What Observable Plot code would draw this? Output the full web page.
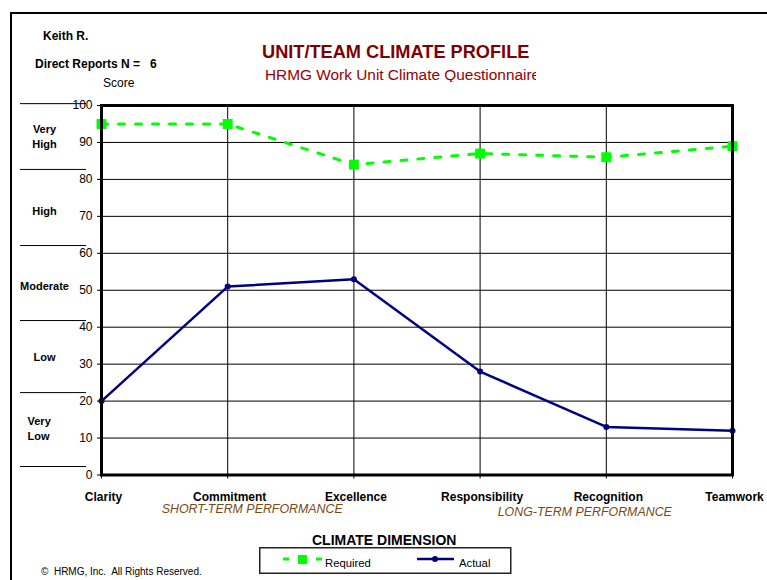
<!DOCTYPE html>
<html><head><meta charset="utf-8">
<script src="https://cdn.jsdelivr.net/npm/d3@7"></script>
<script src="https://cdn.jsdelivr.net/npm/@observablehq/plot@0.6"></script>
<style>
body{margin:0;background:#fff;font-family:"Liberation Sans",Arial,sans-serif;}
#page{position:relative;width:767px;height:580px;overflow:hidden;background:#fff;}
.t{position:absolute;white-space:pre;line-height:1;color:#000;}
#chart svg{overflow:visible;}
</style></head><body>
<div id="page">
  <div style="position:absolute;left:10px;top:12px;width:800px;height:600px;border-left:2px solid #000;border-top:2px solid #000;"></div>
  <div id="chart" style="position:absolute;left:0;top:0;"></div>
  <div class="t" style="left:43px;top:30px;font-size:12px;font-weight:bold;">Keith R.</div>
  <div class="t" style="left:35px;top:58.4px;font-size:12px;font-weight:bold;">Direct Reports N =   6</div>
  <div class="t" style="left:103px;top:77.4px;font-size:12px;">Score</div>
  <div class="t" style="left:262px;top:42.5px;font-size:18.2px;font-weight:bold;color:#800000;">UNIT/TEAM CLIMATE PROFILE</div>
  <div class="t" style="left:265px;top:67px;width:271px;overflow:hidden;font-size:15.4px;color:#990000;">HRMG Work Unit Climate Questionnaire</div>
  <div class="t" style="left:161.7px;top:503.2px;font-size:12.4px;font-style:italic;color:#7b4a12;">SHORT-TERM PERFORMANCE</div>
  <div class="t" style="left:497.7px;top:506.2px;font-size:12.4px;font-style:italic;color:#7b4a12;">LONG-TERM PERFORMANCE</div>
  <div class="t" style="left:312px;top:533px;font-size:14px;font-weight:bold;">CLIMATE DIMENSION</div>
  <div class="t" style="left:41px;top:566.8px;font-size:10px;">©  HRMG, Inc.  All Rights Reserved.</div>
  <svg id="legend" style="position:absolute;left:259px;top:547px;" width="253" height="27"></svg>
</div>
<script>
const categories = ["Clarity","Commitment","Excellence","Responsibility","Recognition","Teamwork"];
const required = [95, 95, 84, 87, 86, 89];
const actual = [20, 51, 53, 28, 13, 12];
const seriesNames = ["Required", "Actual"];
const yTicks = [0,10,20,30,40,50,60,70,80,90,100];
const bandLines = [100.5, 82.7, 62.1, 41.8, 22.3, 2.3];
const bandLabels = ["Very\nHigh", "High", "Moderate", "Low", "Very\nLow"];
const bandLabelY = [91.9, 71.6, 51.3, 32.1, 12.7];

const rows = categories.map((c, i) => ({i, c, required: required[i], actual: actual[i]}));
const bands = bandLabels.map((label, i) => ({label, y: bandLabelY[i], last: i === bandLabels.length - 1}));

const W = 767, H = 580, ML = 101, MR = 35, MT = 105, MB = 105.5;

const chart = Plot.plot({
  width: W, height: H,
  marginLeft: ML, marginRight: MR, marginTop: MT, marginBottom: MB,
  style: {fontFamily: "'Liberation Sans', Arial, sans-serif", fontSize: "12px", background: "transparent", color: "black", overflow: "visible"},
  x: {type: "linear", domain: [0, categories.length - 1], label: null},
  y: {domain: [0, 100], label: null},
  marks: [
    Plot.gridY(yTicks, {stroke: "black", strokeOpacity: 1, strokeWidth: 1}),
    Plot.gridX(d3.range(categories.length), {stroke: "black", strokeOpacity: 1, strokeWidth: 1}),
    Plot.ruleY(bandLines, {stroke: "black", strokeWidth: 1, insetLeft: 20 - ML, insetRight: (W - MR) - 86}),
    Plot.text(bands.filter(d => !d.last), {y: "y", text: "label", frameAnchor: "left", dx: -57, textAnchor: "middle", fontWeight: "bold", fontSize: 11, lineHeight: 1.36}),
    Plot.text(bands.filter(d => d.last), {y: "y", text: "label", frameAnchor: "left", dx: -74, textAnchor: "start", fontWeight: "bold", fontSize: 11, lineHeight: 1.36}),
    Plot.axisY({ticks: yTicks, tickSize: 4, tickPadding: 5, fontSize: 12, label: null}),
    Plot.axisX({ticks: d3.range(categories.length), tickFormat: i => categories[i], tickSize: 4, tickPadding: 13, fontWeight: "bold", fontSize: 12, label: null, textStroke: "none"}),
    Plot.line(rows, {x: "i", y: "actual", stroke: "#000080", strokeWidth: 2.5}),
    Plot.dot(rows, {x: "i", y: "actual", r: 3, fill: "#000080"}),
    Plot.line(rows, {x: "i", y: "required", stroke: "#00ff00", strokeWidth: 3, strokeDasharray: "6,11"}),
    Plot.dot(rows, {x: "i", y: "required", symbol: "square", r: 5.6, fill: "#00ff00", stroke: null}),
    Plot.frame({stroke: "black", strokeWidth: 3})
  ]
});
document.getElementById("chart").appendChild(chart);
// nudge category labels slightly right, as in the reference
d3.select(chart).selectAll("[aria-label='x-axis tick label'] text").attr("dx", 2);

// legend
const lg = d3.select("#legend");
lg.append("rect").attr("x", 0.75).attr("y", 0.75).attr("width", 251).attr("height", 25.5)
  .attr("fill", "white").attr("stroke", "#222").attr("stroke-width", 1.5);
lg.append("rect").attr("x", 24).attr("y", 10.5).attr("width", 6).attr("height", 3).attr("fill", "#00ff00");
lg.append("rect").attr("x", 39).attr("y", 8).attr("width", 9).attr("height", 9).attr("fill", "#00ff00");
lg.append("rect").attr("x", 57).attr("y", 10.5).attr("width", 6).attr("height", 3).attr("fill", "#00ff00");
lg.append("text").attr("x", 66).attr("y", 19.8).attr("font-size", 11.3).attr("font-family", "'Liberation Sans', Arial, sans-serif").text(seriesNames[0]);
lg.append("line").attr("x1", 158).attr("x2", 195).attr("y1", 12).attr("y2", 12).attr("stroke", "#000080").attr("stroke-width", 2.5);
lg.append("circle").attr("cx", 176).attr("cy", 12).attr("r", 3).attr("fill", "#000080");
lg.append("text").attr("x", 200).attr("y", 19.8).attr("font-size", 11.3).attr("font-family", "'Liberation Sans', Arial, sans-serif").text(seriesNames[1]);
</script>
</body></html>
